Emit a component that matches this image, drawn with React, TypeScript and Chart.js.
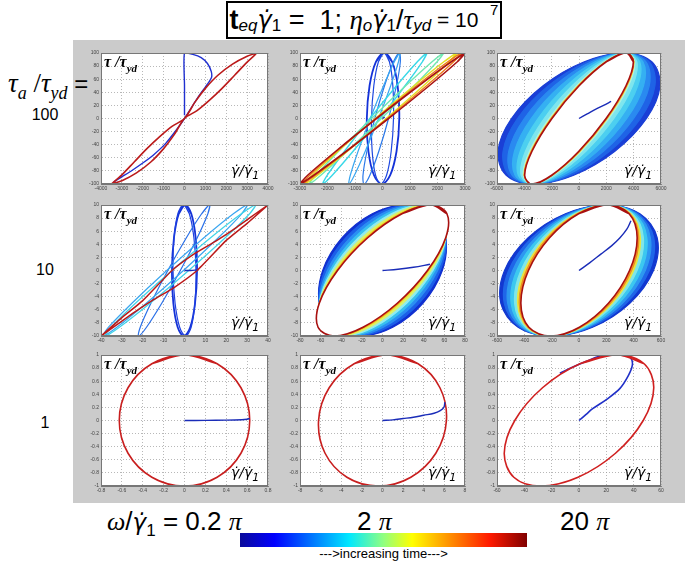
import React, { useEffect, useRef } from "react";
import { Chart, registerables } from "chart.js";
Chart.register(...registerables);

// ---------- shared y samples for closed loops (read at 12 positions round each loop) ----------
const loopY100 = [100, 86.6, 50, 0, -50, -86.6, -100, -86.6, -50, 0, 50, 86.6, 100];
const loopY10 = [10, 8.66, 5, 0, -5, -8.66, -10, -8.66, -5, 0, 5, 8.66, 10];
const loopY1 = [1, 0.866, 0.5, 0, -0.5, -0.866, -1, -0.866, -0.5, 0, 0.5, 0.866, 1];

// ---------- panel (row 1, col 1): tau_a=100, omega=0.2pi ----------
const p11BlueX = [0, 0, 0, 400, 800, 1100, 1280, 1300, 1200, 1000, 700, 400, 0, -400, -900, -1500, -2000, -2500, -3000, -3400];
const p11BlueY = [5, 50, 100, 98, 93, 84, 72, 63, 57, 48, 35, 20, 0, -18, -38, -56, -68, -79, -89, -97];
const p11RedX = [-3500, -3000, -2400, -1800, -1200, -600, 0, 500, 1000, 1600, 2300, 3000, 3450, 3000, 2400, 1800, 1200, 600, 0, -500, -1000, -1600, -2300, -3000, -3500];
const p11RedY = [-100, -86, -66, -46, -28, -12, 0, 25, 46, 66, 83, 95, 100, 86, 66, 46, 28, 12, 0, -25, -46, -66, -83, -95, -100];

// ---------- panel (1,2): tau_a=100, omega=2pi ----------
const p12Blue1X = [60, -240, -471, -570, -511, -310, -20, 280, 511, 610, 551, 350, 60];
const p12Blue2X = [60, -148, -316, -400, -376, -252, -60, 148, 316, 400, 376, 252, 60];
const p12Blue3X = [610, 399, 73.5, -280, -566.5, -709, -670, -459, -133.5, 220, 506.5, 649, 610];
const p12LightX = [630, 431, 37.5, -445, -887.5, -1171, -1220, -1021, -627.5, -145, 297.5, 581, 630];
const p12CyanX = [1610, 1267, 509, -460, -1381, -2007, -2170, -1827, -1069, -100, 821, 1447, 1610];
const p12AquaX = [2220, 1803, 844, -400, -1596, -2423, -2660, -2243, -1284, -40, 1156, 1983, 2220];
const p12YellowX = [2700, 2229, 1144, -265, -1620, -2559, -2830, -2359, -1274, 135, 1490, 2429, 2700];
const p12OrangeX = [2870, 2376, 1238, -240, -1662, -2646, -2930, -2436, -1298, 180, 1602, 2586, 2870];
const p12RedX = [3015, 2501, 1317, -220, -1698, -2721, -3015, -2501, -1317, 220, 1698, 2721, 3015];
const p12StartX = [0, 80];
const p12StartY = [0, 2];

// ---------- panel (1,3): tau_a=100, omega=20pi ----------
const p13L1X = [3300, 388, -2628, -4940, -5928, -5328, -3300, -388, 2628, 4940, 5928, 5328, 3300];
const p13L2X = [3320, 625, -2237, -4500, -5557, -5125, -3320, -625, 2237, 4500, 5557, 5125, 3320];
const p13L3X = [3350, 901, -1789, -4000, -5139, -4901, -3350, -901, 1789, 4000, 5139, 4901, 3350];
const p13L4X = [3380, 1177, -1341, -3500, -4721, -4677, -3380, -1177, 1341, 3500, 4721, 4677, 3380];
const p13L5X = [3400, 1444, -898, -3000, -4298, -4444, -3400, -1444, 898, 3000, 4298, 4444, 3400];
const p13L6X = [3420, 1687, -498, -2550, -3918, -4237, -3420, -1687, 498, 2550, 3918, 4237, 3420];
const p13L7X = [3440, 1879, -185, -2200, -3625, -4079, -3440, -1879, 185, 2200, 3625, 4079, 3440];
const p13L8X = [3445, 1943, -79, -2080, -3523, -4023, -3445, -1943, 79, 2080, 3523, 4023, 3445];
const p13L9X = [3450, 1973, -33, -2030, -3483, -4003, -3450, -1973, 33, 2030, 3483, 4003, 3450];
const p13RedX = [3450, 1998, 10, -1980, -3440, -3978, -3450, -1998, -10, 1980, 3440, 3978, 3450];
const p13StartX = [0, 600, 1200, 1800, 2350];
const p13StartY = [0, 7, 14, 20, 26];

// ---------- panel (2,1): tau_a=10, omega=0.2pi ----------
const p21Blue1X = [0.3, -2.74, -5.05, -6, -5.35, -3.26, -0.3, 2.74, 5.05, 6, 5.35, 3.26, 0.3];
const p21Blue2X = [-0.5, -3.18, -5.01, -5.5, -4.51, -2.32, 0.5, 3.18, 5.01, 5.5, 4.51, 2.32, -0.5];
const p21MedX = [12, 8.2, 0.9, -8, -16.1, -21.2, -22, -18.2, -10.9, -2, 6.1, 11.2, 12];
const p21LightX = [30, 23.4, 9.3, -8.5, -25.2, -36.4, -39, -32.4, -18.3, -0.5, 16.2, 27.4, 30];
const p21CyanX = [34, 27.2, 12.5, -6, -23.5, -35.2, -38, -31.2, -16.5, 2, 19.5, 31.2, 34];
const p21RedX = [-40, -30, -20, -6, 5, 15, 25, 40, 30, 20, 6, -5, -15, -25, -40];
const p21RedY = [-10, -7.2, -4.6, 0, 2.6, 4.5, 6.6, 10, 7.2, 4.6, 0, -2.6, -4.5, -6.6, -10];
const p21StartX = [0, 3, 6];
const p21StartY = [0, 0, 0.1];

// ---------- panel (2,2): tau_a=10, omega=2pi ----------
const p22L1X = [22, -9.95, -39.2, -58, -61.2, -48.05, -22, 9.95, 39.2, 58, 61.2, 48.05, 22];
const p22L2X = [26, -5.5, -35.5, -56, -61.5, -50.5, -26, 5.5, 35.5, 56, 61.5, 50.5, 26];
const p22L3X = [30, -0.75, -31.3, -53.5, -61.3, -52.75, -30, 0.75, 31.3, 53.5, 61.3, 52.75, 30];
const p22L4X = [34, 3.9, -27.2, -51, -61.2, -54.9, -34, -3.9, 27.2, 51, 61.2, 54.9, 34];
const p22L5X = [38, 8.4, -23.4, -49, -61.4, -57.4, -38, -8.4, 23.4, 49, 61.4, 57.4, 38];
const p22L6X = [41.5, 12.4, -19.95, -47, -61.45, -59.4, -41.5, -12.4, 19.95, 47, 61.45, 59.4, 41.5];
const p22L7X = [44.5, 16, -16.75, -45, -61.25, -61, -44.5, -16, 16.75, 45, 61.25, 61, 44.5];
const p22L8X = [46, 17.7, -15.3, -44.2, -61.3, -61.9, -46, -17.7, 15.3, 44.2, 61.3, 61.9, 46];
const p22RedX = [47, 18.9, -14.3, -43.6, -61.3, -62.5, -47, -18.9, 14.3, 43.6, 61.3, 62.5, 47];
const p22StartX = [0, 15, 30, 46];
const p22StartY = [0, 0.2, 0.5, 0.95];

// ---------- panel (2,3): tau_a=10, omega=20pi ----------
const p23L1X = [200, -99.3, -372, -545, -572, -445.7, -200, 99.3, 372, 545, 572, 445.7, 200];
const p23L2X = [202, -82.5, -345, -515, -547, -432.5, -202, 82.5, 345, 515, 547, 432.5, 202];
const p23L3X = [204, -65.8, -318, -485, -522, -419.2, -204, 65.8, 318, 485, 522, 419.2, 204];
const p23L4X = [205, -50, -291.5, -455, -496.5, -405, -205, 50, 291.5, 455, 496.5, 405, 205];
const p23L5X = [206, -34.1, -265, -425, -471, -390.9, -206, 34.1, 265, 425, 471, 390.9, 206];
const p23L6X = [207, -20.7, -242.9, -400, -449.9, -379.3, -207, 20.7, 242.9, 400, 449.9, 379.3, 207];
const p23L7X = [208, -12.4, -229.4, -385, -437.4, -372.6, -208, 12.4, 229.4, 385, 437.4, 372.6, 208];
const p23RedX = [210, -3.1, -215.4, -370, -425.4, -366.9, -210, 3.1, 215.4, 370, 425.4, 366.9, 210];
const p23StartX = [0, 80, 160, 240, 300, 350, 380];
const p23StartY = [0, 1.2, 2.5, 3.8, 5, 6.3, 7.6];

// ---------- panel (3,1): tau_a=1, omega=0.2pi ----------
const p31RedX = [0, -0.3125, -0.541, -0.625, -0.541, -0.3125, 0, 0.3125, 0.541, 0.625, 0.541, 0.3125, 0];
const p31BlueX = [0, 0.2, 0.4, 0.55, 0.6, 0.625];
const p31BlueY = [0, 0.002, 0.005, 0.012, 0.02, 0.03];

// ---------- panel (3,2): tau_a=1, omega=2pi ----------
const p32RedX = [0.4, -2.75, -5.17, -6.2, -5.57, -3.45, -0.4, 2.75, 5.17, 6.2, 5.57, 3.45, 0.4];
const p32BlueX = [0, 1, 2, 3, 4, 5, 5.6, 5.95, 6.05];
const p32BlueY = [0, 0.01, 0.03, 0.05, 0.08, 0.11, 0.15, 0.2, 0.28];

// ---------- panel (3,3): tau_a=1, omega=20pi ----------
const p33RedX = [28, 0.7, -26.7, -47, -54.7, -47.7, -28, -0.7, 26.7, 47, 54.7, 47.7, 28];
const p33BlueX = [0, 5, 10, 20, 30, 36, 39, 38, 33, 24, 15, 5, -4, -14];
const p33BlueY = [0, 0.09, 0.18, 0.32, 0.49, 0.68, 0.84, 0.95, 0.995, 1, 0.98, 0.9, 0.82, 0.72];

// ---------- axis ranges and labels ----------
const rowYMax = [100, 10, 1];
const rowYStep = [20, 2, 0.2];
const xRanges = [
  [4000, 1000], [3000, 1000], [6000, 2000],
  [40, 10], [80, 20], [600, 200],
  [0.8, 0.2], [8, 2], [60, 20],
];
const rowLabels = ["100", "10", "1"];
const freqValues = ["0.2", "2", "20"];

type Layer = { x: number[]; y: number[]; color: string; width?: number; fill?: string; tension?: number; closed?: boolean };

const DB = "#1a2cb8";
const RED = "#bb1a1a";

const panelLayers: Layer[][] = [
  [
    { x: p11BlueX, y: p11BlueY, color: "#2030d0", width: 1.4, tension: 0.2 },
    { x: p11RedX, y: p11RedY, color: RED, width: 1.6, tension: 0.3 },
  ],
  [
    { x: p12Blue1X, y: loopY100, color: "#1432d8", width: 1.8, closed: true },
    { x: p12Blue2X, y: loopY100, color: "#1e48e0", width: 1.2, closed: true },
    { x: p12Blue3X, y: loopY100, color: "#2a78ea", width: 1.2, closed: true },
    { x: p12LightX, y: loopY100, color: "#3aa6f0", width: 1.2, closed: true },
    { x: p12CyanX, y: loopY100, color: "#38d8e8", width: 1.4, closed: true },
    { x: p12AquaX, y: loopY100, color: "#70e8b0", width: 1.4, closed: true },
    { x: p12YellowX, y: loopY100, color: "#e4e020", width: 1.4, closed: true },
    { x: p12OrangeX, y: loopY100, color: "#f07a18", width: 1.4, closed: true },
    { x: p12RedX, y: loopY100, color: "#a81212", width: 1.6, closed: true },
    { x: p12StartX, y: p12StartY, color: DB, width: 1.4 },
  ],
  [
    { x: p13L1X, y: loopY100, color: "#1a3fd6", fill: "#1a3fd6", closed: true },
    { x: p13L2X, y: loopY100, color: "#1f63e6", fill: "#1f63e6", closed: true },
    { x: p13L3X, y: loopY100, color: "#2a8af0", fill: "#2a8af0", closed: true },
    { x: p13L4X, y: loopY100, color: "#35b0f2", fill: "#35b0f2", closed: true },
    { x: p13L5X, y: loopY100, color: "#4ccff0", fill: "#4ccff0", closed: true },
    { x: p13L6X, y: loopY100, color: "#7ee6ee", fill: "#7ee6ee", closed: true },
    { x: p13L7X, y: loopY100, color: "#b0f0e0", fill: "#b0f0e0", closed: true },
    { x: p13L8X, y: loopY100, color: "#e8e030", fill: "#e8e030", closed: true },
    { x: p13L9X, y: loopY100, color: "#f08020", fill: "#f08020", closed: true },
    { x: p13RedX, y: loopY100, color: "#a81010", fill: "#ffffff", width: 1.6, closed: true },
    { x: p13StartX, y: p13StartY, color: DB, width: 1.4 },
  ],
  [
    { x: p21Blue1X, y: loopY10, color: "#1432d8", width: 1.8, closed: true },
    { x: p21Blue2X, y: loopY10, color: "#1e40e0", width: 1.2, closed: true },
    { x: p21MedX, y: loopY10, color: "#2a70e8", width: 1.2, closed: true },
    { x: p21LightX, y: loopY10, color: "#3aa6f0", width: 1.2, closed: true },
    { x: p21CyanX, y: loopY10, color: "#40d4e8", width: 1.2, closed: true },
    { x: p21RedX, y: p21RedY, color: RED, width: 1.5, tension: 0.15 },
    { x: p21StartX, y: p21StartY, color: DB, width: 1.4 },
  ],
  [
    { x: p22L1X, y: loopY10, color: "#1030d0", fill: "#1030d0", closed: true },
    { x: p22L2X, y: loopY10, color: "#1c5fe8", fill: "#1c5fe8", closed: true },
    { x: p22L3X, y: loopY10, color: "#2b8ff2", fill: "#2b8ff2", closed: true },
    { x: p22L4X, y: loopY10, color: "#38c0f0", fill: "#38c0f0", closed: true },
    { x: p22L5X, y: loopY10, color: "#90ecf0", fill: "#90ecf0", closed: true },
    { x: p22L6X, y: loopY10, color: "#d8f070", fill: "#d8f070", closed: true },
    { x: p22L7X, y: loopY10, color: "#f0e020", fill: "#f0e020", closed: true },
    { x: p22L8X, y: loopY10, color: "#f08020", fill: "#f08020", closed: true },
    { x: p22RedX, y: loopY10, color: "#a81010", fill: "#ffffff", width: 1.6, closed: true },
    { x: p22StartX, y: p22StartY, color: DB, width: 1.4 },
  ],
  [
    { x: p23L1X, y: loopY10, color: "#1238d0", fill: "#1238d0", closed: true },
    { x: p23L2X, y: loopY10, color: "#1f66e8", fill: "#1f66e8", closed: true },
    { x: p23L3X, y: loopY10, color: "#2e98f0", fill: "#2e98f0", closed: true },
    { x: p23L4X, y: loopY10, color: "#3cc8f0", fill: "#3cc8f0", closed: true },
    { x: p23L5X, y: loopY10, color: "#80e6e8", fill: "#80e6e8", closed: true },
    { x: p23L6X, y: loopY10, color: "#e8e440", fill: "#e8e440", closed: true },
    { x: p23L7X, y: loopY10, color: "#f08c20", fill: "#f08c20", closed: true },
    { x: p23RedX, y: loopY10, color: "#a81010", fill: "#ffffff", width: 1.6, closed: true },
    { x: p23StartX, y: p23StartY, color: DB, width: 1.4 },
  ],
  [
    { x: p31RedX, y: loopY1, color: "#c81e1e", width: 1.6, closed: true },
    { x: p31BlueX, y: p31BlueY, color: DB, width: 1.4 },
  ],
  [
    { x: p32RedX, y: loopY1, color: "#c81e1e", width: 1.6, closed: true },
    { x: p32BlueX, y: p32BlueY, color: DB, width: 1.4 },
  ],
  [
    { x: p33BlueX, y: p33BlueY, color: "#2030c8", width: 1.6 },
    { x: p33RedX, y: loopY1, color: "#d02020", width: 1.6, closed: true },
  ],
];

const colLeft = [101, 300, 497];
const colWidth = [167, 165, 164];
const rowTop = [52, 204, 354];
const rowHeight = [132, 132, 132];

const Y_AXIS_W = 16;
const X_AXIS_H = 9;
const PAD_T = 4;
const PAD_R = 8;

const fmt = (v: any) => String(Math.round(Number(v) * 1000) / 1000);

const framePlugin = {
  id: "frame",
  beforeDraw(chart: any) {
    const { ctx, chartArea: a } = chart;
    ctx.save();
    ctx.fillStyle = "#ffffff";
    ctx.fillRect(a.left, a.top, a.right - a.left, a.bottom - a.top);
    ctx.restore();
  },
  afterDraw(chart: any) {
    const { ctx, chartArea: a } = chart;
    ctx.save();
    ctx.strokeStyle = "#777";
    ctx.lineWidth = 1;
    ctx.strokeRect(a.left + 0.5, a.top + 0.5, a.right - a.left - 1, a.bottom - a.top - 1);
    ctx.restore();
  },
};

const GD = '"DejaVu Sans", sans-serif';

function Sub({ children, size, top }: { children: any; size: number; top: number }) {
  return <span style={{ fontSize: size, position: "relative", top, lineHeight: 0 }}>{children}</span>;
}

function Panel({ idx }: { idx: number }) {
  const ref = useRef<HTMLCanvasElement>(null);
  const r = Math.floor(idx / 3);
  const c = idx % 3;
  const L = colLeft[c];
  const T = rowTop[r];
  const W = colWidth[c];
  const H = rowHeight[r];
  const cw = W + Y_AXIS_W + PAD_R;
  const ch = H + PAD_T + X_AXIS_H;
  useEffect(() => {
    const layers = panelLayers[idx];
    const n = layers.length;
    const [xm, xs] = xRanges[idx];
    const ym = rowYMax[r];
    const ys = rowYStep[r];
    const datasets = layers.map((l, i) => {
      const pts = l.x.map((xv, k) => ({ x: xv, y: l.y[k] }));
      // closed loops: wrap one sample on each side so the spline joins smoothly
      const data = l.closed ? [pts[pts.length - 2], ...pts, pts[1]] : pts;
      return {
        data,
        showLine: true,
        borderColor: l.color,
        backgroundColor: l.fill || l.color,
        fill: l.fill ? "shape" : false,
        borderWidth: l.width ?? 1.2,
        pointRadius: 0,
        pointHoverRadius: 0,
        tension: l.tension ?? 0.35,
        order: n - i,
      };
    });
    const chart = new Chart(ref.current as HTMLCanvasElement, {
      type: "scatter",
      data: { datasets: datasets as any },
      options: {
        animation: false,
        responsive: false,
        events: [],
        layout: { padding: { left: 0, right: PAD_R, top: PAD_T, bottom: 0 } },
        plugins: { legend: { display: false }, tooltip: { enabled: false } },
        scales: {
          x: {
            type: "linear",
            min: -xm,
            max: xm,
            afterFit: (s: any) => { s.height = X_AXIS_H; },
            ticks: { stepSize: xs, autoSkip: false, maxRotation: 0, font: { size: 5, family: "Liberation Sans" }, color: "#444", padding: 2, callback: fmt },
            grid: { color: "#9a9a9a", lineWidth: 0.7, drawTicks: false },
            border: { display: true, color: "#777", dash: [1, 2] },
          },
          y: {
            type: "linear",
            min: -ym,
            max: ym,
            afterFit: (s: any) => { s.width = Y_AXIS_W; },
            ticks: { stepSize: ys, autoSkip: false, font: { size: 5, family: "Liberation Sans" }, color: "#444", padding: 2, callback: fmt },
            grid: { color: "#9a9a9a", lineWidth: 0.7, drawTicks: false },
            border: { display: true, color: "#777", dash: [1, 2] },
          },
        },
      },
      plugins: [framePlugin],
    } as any);
    return () => chart.destroy();
  }, [idx]);
  return (
    <>
      <canvas ref={ref} width={cw} height={ch} style={{ position: "absolute", left: L - Y_AXIS_W, top: T - PAD_T, width: cw, height: ch }} />
      <div style={{ position: "absolute", left: L + 3, top: T + 2, fontFamily: '"Liberation Serif", serif', fontStyle: "italic", fontWeight: "bold", fontSize: 16, whiteSpace: "nowrap", lineHeight: "16px", color: "#000" }}>
        τ /τ<Sub size={11} top={5}>yd</Sub>
      </div>
      <div style={{ position: "absolute", left: L + W - 37, top: T + H - 22, fontFamily: GD, fontStyle: "italic", fontSize: 14, whiteSpace: "nowrap", lineHeight: "16px", color: "#000" }}>
        γ̇/γ̇<Sub size={11} top={4}>1</Sub>
      </div>
    </>
  );
}

export default function App() {
  const serif = '"Liberation Serif", serif';
  const sans = '"Liberation Sans Narrow", "Liberation Sans", sans-serif';
  return (
    <div style={{ position: "absolute", left: 0, top: 0, width: 685, height: 563, background: "#fff", overflow: "hidden" }}>
      {/* title box */}
      <div style={{ position: "absolute", left: 226, top: 1, width: 272, height: 34, border: "2px solid #000", background: "#fff", display: "flex", alignItems: "center", justifyContent: "center", fontFamily: sans, fontSize: 27, whiteSpace: "nowrap", lineHeight: "30px" }}>
        <span style={{ fontWeight: "bold" }}>t</span>
        <Sub size={17} top={6}><i>eq</i></Sub>
        <i style={{ fontFamily: GD, fontSize: 24 }}>γ̇</i>
        <Sub size={17} top={6}>1</Sub>
        <span>&nbsp;= &nbsp;1;&nbsp; </span>
        <i style={{ fontFamily: serif }}>η</i>
        <Sub size={17} top={6}><i>o</i></Sub>
        <i style={{ fontFamily: GD, fontSize: 24 }}>γ̇</i>
        <Sub size={17} top={6}>1</Sub>
        <span>/</span>
        <i style={{ fontFamily: serif }}>τ</i>
        <Sub size={17} top={6}><i>yd</i></Sub>
        <span style={{ fontSize: 21 }}>&nbsp;= 10 &nbsp;</span>
        <Sub size={15} top={-10}>7</Sub>
      </div>

      {/* gray panel background */}
      <div style={{ position: "absolute", left: 73, top: 40, width: 612, height: 463, background: "#cbcbcb" }} />

      {/* row labels */}
      <div style={{ position: "absolute", left: 8, top: 68, fontSize: 27, whiteSpace: "nowrap", fontFamily: serif, lineHeight: "30px" }}>
        <i>τ</i><Sub size={18} top={7}><i>a</i></Sub>
        <span> /</span><i>τ</i><Sub size={18} top={7}><i>yd</i></Sub>
        <span style={{ fontFamily: sans, fontSize: 24 }}> =</span>
      </div>
      {rowLabels.map((t, i) => (
        <div key={t} style={{ position: "absolute", left: 20, width: 50, textAlign: "center", top: [106, 261, 414][i], fontFamily: '"Liberation Sans", sans-serif', fontSize: 16, lineHeight: "18px" }}>{t}</div>
      ))}

      {/* panels */}
      {Array.from({ length: 9 }, (_, i) => <Panel key={i} idx={i} />)}

      {/* frequency labels */}
      <div style={{ position: "absolute", left: 107, top: 506, fontSize: 26, whiteSpace: "nowrap", lineHeight: "30px", fontFamily: sans }}>
        <i style={{ fontFamily: serif }}>ω</i>/<i style={{ fontFamily: GD, fontSize: 23 }}>γ̇</i><Sub size={17} top={6}>1</Sub> = {" "}
        <span>{freqValues[0]} </span><i style={{ fontFamily: serif }}>π</i>
      </div>
      <div style={{ position: "absolute", left: 357, top: 506, fontSize: 26, whiteSpace: "nowrap", lineHeight: "30px", fontFamily: sans }}>
        {freqValues[1]} <i style={{ fontFamily: serif }}>π</i>
      </div>
      <div style={{ position: "absolute", left: 560, top: 506, fontSize: 26, whiteSpace: "nowrap", lineHeight: "30px", fontFamily: sans }}>
        {freqValues[2]} <i style={{ fontFamily: serif }}>π</i>
      </div>

      {/* colour bar */}
      <div style={{ position: "absolute", left: 240, top: 533, width: 287, height: 14, background: "linear-gradient(to right, #0a0a9a 0%, #0000ff 12%, #0090ff 28%, #00e8ff 38%, #90ff80 50%, #ffff00 60%, #ff9000 73%, #ff1a00 87%, #800000 100%)" }} />
      <div style={{ position: "absolute", left: 240, top: 546, width: 287, textAlign: "center", fontFamily: sans, fontSize: 13, lineHeight: "16px" }}>---&gt;increasing time---&gt;</div>
    </div>
  );
}
